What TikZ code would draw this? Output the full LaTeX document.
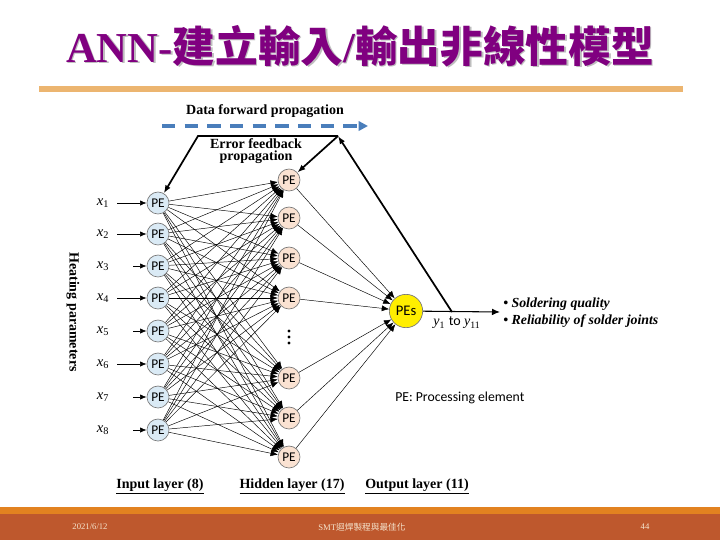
\documentclass[tikz,border=0pt]{standalone}
\usepackage{fontspec}
\setmainfont{Liberation Serif}
\newfontfamily\cjk{Noto Sans CJK TC}
\newfontfamily\sansf{Carlito}
\usetikzlibrary{arrows.meta}
\definecolor{titlepurple}{RGB}{128,0,128}
\definecolor{titleshadow}{RGB}{190,190,190}
\definecolor{rulecol}{RGB}{236,181,112}
\definecolor{stripcol}{RGB}{226,130,32}
\definecolor{bandcol}{RGB}{190,88,45}
\definecolor{foottext}{RGB}{245,228,205}
\definecolor{inblue}{RGB}{218,234,245}
\definecolor{hidpeach}{RGB}{250,226,210}
\definecolor{outyellow}{RGB}{255,238,0}
\definecolor{pegray}{RGB}{120,120,120}
\definecolor{dashblue}{RGB}{74,126,187}
\begin{document}
\begin{tikzpicture}[x=0.75pt,y=-0.75pt,
  pe/.style={circle,draw=pegray,line width=0.5pt,minimum size=16.5pt,inner sep=0pt,font=\sansf\fontsize{10}{10}\selectfont},
  inpe/.style={pe,fill=inblue},
  hidpe/.style={pe,fill=hidpeach},
  outpe/.style={pe,fill=outyellow,minimum size=25pt,font=\sansf\fontsize{11}{11}\selectfont},
  conn/.style={line width=0.35pt,-{Latex[length=5.5pt,width=4.5pt]}},
  fb/.style={line width=1.3pt,-{Latex[length=6pt,width=4.5pt]}},
  lbl/.style={font=\bfseries\fontsize{10.5}{11}\selectfont,inner sep=0pt},
  xl/.style={font=\fontsize{11}{11}\selectfont,inner sep=0pt},
  foot/.style={text=foottext,font=\fontsize{6.5}{6.5}\selectfont,inner sep=0pt}]
\useasboundingbox (0,0) rectangle (720,540);
\fill[white] (0,0) rectangle (720,540);
% title
\node[text=titleshadow,font=\bfseries\fontsize{32}{32}\selectfont,inner sep=0pt] (titleshadow) at (361.5,47.5)
  {ANN-{\cjk\bfseries 建立輸入}/{\cjk\bfseries 輸出非線性模型}};
\node[text=titlepurple,font=\bfseries\fontsize{32}{32}\selectfont,inner sep=0pt] (title) at (360,46)
  {ANN-{\cjk\bfseries 建立輸入}/{\cjk\bfseries 輸出非線性模型}};
\fill[rulecol] (39,86) rectangle (683,92);
% footer
\fill[stripcol] (0,507) rectangle (720,514);
\fill[bandcol] (0,514) rectangle (720,540);
\node[foot] (date) at (90,527) {2021/6/12};
\node[foot] (ftitle) at (362,527) {SMT{\cjk 迴焊製程與最佳化}};
\node[foot] (page) at (645,527) {44};
% input nodes
\foreach \i/\y in {1/203,2/234,3/266,4/298,5/331,6/364,7/397,8/430}{
  \node[inpe] (i\i) at (158,\y) {PE};
  \node[xl] (x\i) at (103,\y) {\textit{x}\textsubscript{\i}};
}
% hidden nodes
\foreach \j/\y in {1/180,2/218,3/258,4/298,5/378,6/418,7/457}{
  \node[hidpe] (h\j) at (289,\y) {PE};
}
\foreach \d in {331,337,343}{\fill (289,\d) circle (1.2pt);}
% output node
\node[outpe] (o) at (406,311) {PEs};
% input arrows
\foreach \i/\y in {1/203,2/234,4/298,6/364}{
  \coordinate (xs\i) at (117,\y);
  \draw[line width=0.5pt,-{Latex[length=5pt,width=4pt]}] (xs\i) -- (i\i);
}
\foreach \i/\y in {3/266,5/331,7/397,8/430}{
  \coordinate (xs\i) at (133,\y);
  \draw[line width=0.5pt,-{Latex[length=5pt,width=4pt]}] (xs\i) -- (i\i);
}
% connections
\foreach \i in {1,...,8}{\foreach \j in {1,...,7}{\draw[conn] (i\i) -- (h\j);}}
\foreach \j in {1,...,7}{\draw[conn] (h\j) -- (o);}
% output arrow
\coordinate (oend) at (500,312);
\coordinate (fbs) at (452,312);
\draw[line width=0.8pt,-{Latex[length=6pt,width=5pt]}] (o) -- (oend);
\node[font=\fontsize{10.5}{10.5}\selectfont,inner sep=0pt] (ylab) at (457,323)
  {\textit{y}\textsubscript{1} {\sansf to} \textit{y}\textsubscript{11}};
\node[font=\bfseries\itshape\fontsize{10.4}{11}\selectfont,anchor=west,inner sep=0pt] (r1) at (503,304) {• Soldering quality};
\node[font=\bfseries\itshape\fontsize{10.4}{11}\selectfont,anchor=west,inner sep=0pt] (r2) at (503,321) {• Reliability of solder joints};
\node[font=\sansf\fontsize{10.3}{11}\selectfont,anchor=west,inner sep=0pt] (legend) at (395,398) {PE: Processing element};
% feedback
\coordinate (tl) at (198,136);
\coordinate (tr) at (338,136);
\draw[fb] (tr) -- (tl) -- (i1);
\draw[fb] (tr) -- (h1);
\draw[fb] (fbs) -- (tr);
\node[lbl,align=center] (err) at (256,151) {Error feedback\\[-1.5pt]propagation};
% data forward
\node[lbl] (data) at (265,111) {Data forward propagation};
\coordinate (ds) at (162,126);
\coordinate (de) at (368,126);
\draw[dashblue,line width=2.4pt,dash pattern=on 10pt off 7pt,-{Triangle[length=7pt,width=7pt]}] (ds) -- (de);
% layer labels
\node[lbl] (inl) at (160,486) {\underline{Input layer (8)}};
\node[lbl] (hidl) at (292,486) {\underline{Hidden layer (17)}};
\node[lbl] (outl) at (417,486) {\underline{Output layer (11)}};
\node[lbl,rotate=-90] (heat) at (73,312) {Heating parameters};
\end{tikzpicture}
\end{document}
